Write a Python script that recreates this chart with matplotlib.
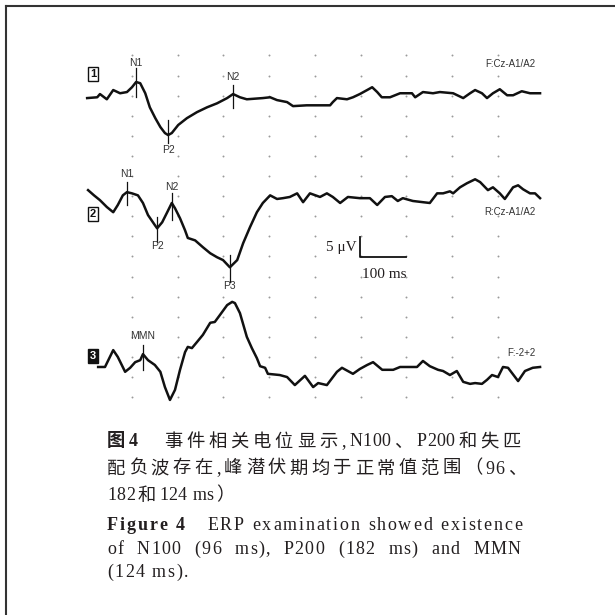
import matplotlib
matplotlib.use('Agg')
import matplotlib.pyplot as plt
from matplotlib.font_manager import FontProperties, findfont, get_font

W = H = 615
DPI = 100

# trace 1  F:Cz-A1/A2   (time ms, amplitude uV)
t1 = [2, 24, 30, 45, 59, 74, 89, 100, 109, 118, 129, 139, 151, 162, 172, 179, 187, 201, 220, 242,
      264, 286, 308, 321, 336, 351, 386, 402, 417, 439, 452, 482, 511, 533, 539, 548, 570, 583, 598, 614,
      625, 636, 646, 664, 686, 712, 719, 736, 758, 773, 802, 824, 839, 850, 865, 876, 889, 904, 920, 933,
      952, 970, 992]
a1 = [-0.6, -0.4, 0.4, -0.9, 1.4, 0.6, 0.9, 2.1, 3.4, 3.1, 0.6, -2.9, -5.6, -7.8, -9.3, -9.8, -9.3, -7.3, -5.6, -4.1,
      -2.9, -1.9, -0.6, 0.4, -0.4, -0.9, -0.6, -0.4, -1.1, -1.6, -2.6, -2.4, -2.4, -2.4, -1.6, -0.6, -0.9, -0.4, 0.4, 1.4,
      2.1, 0.9, -0.4, -0.4, 0.6, 0.6, -0.4, 0.9, 0.6, 0.9, 0.6, -0.6, 0.6, 1.4, 0.6, -0.6, 0.6, 1.6, 0.1, 0.1,
      1.1, 0.6, 0.6]

# trace 2  R:Cz-A1/A2
t2 = [4, 17, 30, 45, 59, 69, 80, 89, 100, 113, 124, 135, 150, 155, 166, 177, 187, 194, 205, 216,
      222, 238, 255, 271, 286, 299, 314, 330, 343, 358, 373, 386, 402, 417, 430, 445, 461, 474, 489, 511,
      526, 539, 555, 572, 598, 620, 636, 653, 668, 681, 692, 714, 736, 751, 767, 780, 795, 802, 817, 832,
      850, 861, 878, 889, 904, 915, 933, 944, 955, 970, 981, 992]
a2 = [1.5, 0.2, -1.0, -2.7, -4.0, -2.2, 0.2, 1.0, 0.7, 0.2, -1.7, -4.7, -7.2, -8.0, -6.5, -4.0, -1.7, -3.0, -5.5, -8.5,
      -10.4, -11.0, -12.7, -14.2, -15.2, -15.9, -17.7, -15.9, -11.7, -7.7, -4.0, -1.7, 0.2, -0.7, -0.5, -0.2, 0.7, -1.5, 0.7, -0.2,
      0.7, -0.2, -1.7, -0.2, -0.5, -0.5, -2.2, -0.2, 0.0, -1.2, -0.5, -1.2, -1.5, -1.7, 0.7, 0.7, 1.2, 0.7, 2.2, 3.2,
      4.2, 3.5, 1.5, 2.2, 0.7, -0.7, 2.2, 2.7, 1.7, 0.7, 0.7, -0.5]

# trace 3  F:-2+2
t3 = [26, 41, 59, 69, 85, 96, 107, 118, 124, 135, 150, 162, 172, 183, 194, 205, 216, 222, 231, 242,
      255, 271, 281, 292, 308, 319, 325, 336, 351, 362, 373, 380, 391, 397, 423, 439, 456, 478, 496, 507,
      526, 548, 559, 583, 598, 614, 627, 647, 671, 686, 723, 736, 751, 769, 780, 795, 810, 824, 839, 850,
      865, 876, 887, 900, 911, 922, 944, 959, 976, 992]
a3 = [0, 0, 4.2, 2.5, -1.2, -0.2, 1.2, 1.7, 3.2, 1.7, 0.5, -1.2, -5.0, -8.2, -5.7, -0.7, 3.7, 5.0, 4.7, 6.2,
      8.0, 11.0, 11.2, 12.9, 15.4, 16.2, 15.9, 13.4, 7.5, 4.7, 2.2, 0.2, -0.2, -1.7, -2.0, -2.5, -4.5, -2.2, -5.0, -4.0,
      -4.5, -1.2, -0.2, -1.7, -0.5, 0.5, 1.2, -0.7, -0.7, 0, 0, 1.5, 0.2, -0.7, -1.0, -2.0, -1.0, -3.7, -4.2, -4.0,
      -4.2, -3.2, -2.0, -2.5, 0, -0.2, -3.5, -1.0, -0.2, 0]

traces = [(t1, a1), (t2, a2), (t3, a3)]
offsets = [75, 50, 7.5]
channels = ['F:Cz-A1/A2', 'R:Cz-A1/A2', 'F:-2+2']
chan_y = [7.8, -4.0, 3.5]
box_y = [5.5, -4.5, 2.7]

# peak marks
peak_name = ['N1', 'P2', 'N2', 'N1', 'P2', 'N2', 'P3', 'MMN']
peak_trace = [0, 0, 0, 1, 1, 1, 1, 2]
peak_t = [109, 179, 321, 89, 155, 187, 314, 124]
tick_hi = [6.8, -6.1, 2.6, 3.5, -5.2, 0.75, -14.7, 5.5]
tick_lo = [-0.4, -11.8, -3.1, -2.2, -11.4, -6.0, -21.4, -0.75]
label_y = [8.1, -13.6, 4.6, 5.5, -12.4, 2.2, -22.4, 7.7]

grid_t = list(range(100, 1000, 100))
grid_v = list(range(0, 90, 5))

TXT = '#231f20'
fig = plt.figure(figsize=(W / DPI, H / DPI), dpi=DPI)
fig.patch.set_facecolor('white')
ax = fig.add_axes([0, 0, 1, 1])
ax.set_xlim(-188.5, 1155.8)
ax.set_ylim(-54.2, 98.8)
ax.axis('off')

# frame (top and left only)
fig.add_artist(plt.Line2D([6 / W, 6 / W], [0, 1 - 6 / H], color='#333333', lw=1.5))
fig.add_artist(plt.Line2D([6 / W, 1], [1 - 6 / H, 1 - 6 / H], color='#333333', lw=1.5))

for v in grid_v:
    ax.plot(grid_t, [v] * len(grid_t), 'o', ms=1.4, mec='none', mfc='#9a9a9a')

for (t, a), off in zip(traces, offsets):
    ax.plot(t, [off + x for x in a], color='#111111', lw=1.8, solid_joinstyle='round')

sans = FontProperties(family='Liberation Sans', size=7.5)
for n, k, t, hi, lo, ly in zip(peak_name, peak_trace, peak_t, tick_hi, tick_lo, label_y):
    off = offsets[k]
    ax.plot([t, t], [off + lo, off + hi], color='#111111', lw=0.9)
    ax.text(t, off + ly, n, fontproperties=sans, color='#333333', ha='center', va='center')

chan_fp = FontProperties(family='Liberation Sans', size=7)
for name, off, cy in zip(channels, offsets, chan_y):
    ax.text(981, off + cy, name, fontproperties=chan_fp, color='#333333', ha='right', va='center')

box_fp = FontProperties(family='Liberation Sans', size=8, weight='bold')
for i, (off, by) in enumerate(zip(offsets, box_y)):
    dark = i == 2
    ax.text(14.5, off + by, str(i + 1), fontproperties=box_fp,
            color='white' if dark else '#111111', ha='center', va='center',
            bbox=dict(boxstyle='square,pad=0.18', fc='#111111' if dark else 'white', ec='#111111', lw=1))

# scale bar 5 uV / 100 ms
bar_t, bar_v = 598, 34.8
ax.plot([bar_t, bar_t, bar_t + 100], [bar_v + 5, bar_v, bar_v], color='#111111', lw=1.3)
serif_s = FontProperties(family='Liberation Serif', size=11)
ax.text(bar_t - 6, bar_v + 2.4, '5 \u03bcV', fontproperties=serif_s, color=TXT, ha='right', va='center')
ax.text(bar_t + 4, bar_v - 4.3, '100 ms', fontproperties=serif_s, color=TXT, ha='left', va='center')

# caption, laid out character by character to mimic justified print
cjk = FontProperties(family='Noto Sans CJK SC', size=13.2)
cjk_b = FontProperties(family='Noto Sans CJK SC', size=13.2, weight='bold')
ser = FontProperties(family='Liberation Serif', size=13)
ser_b = FontProperties(family='Liberation Serif', size=13, weight='bold')


def adv(ch, fp):
    font = get_font(findfont(fp))
    font.set_size(fp.get_size_in_points(), DPI)
    return font.load_char(ord(ch)).linearHoriAdvance / 65536


def put_line(segs, y, x0, x1=None, track=1.5, tight=0.4):
    # segs: (text, font, run) -- chars inside a run keep a tight fixed spacing
    chars, fixed = [], []
    for s, fp, run in segs:
        for j, c in enumerate(s):
            chars.append((c, fp))
            fixed.append(run and j < len(s) - 1)
    fixed[-1] = True
    widths = [adv(c, fp) for c, fp in chars]
    n_sp = sum(1 for c, _ in chars if c == ' ')
    n_st = sum(1 for f in fixed if not f)
    extra = 0.0
    if x1 is not None:
        base = sum(widths) + tight * (len(chars) - 1 - n_st)
        if n_sp:
            extra = (x1 - x0 - base - track * n_st) / n_sp
        else:
            track = (x1 - x0 - base) / n_st
    x = x0
    for (c, fp), w, f in zip(chars, widths, fixed):
        gap = tight if f else track
        if c == ' ':
            x += w + extra + gap
            continue
        fig.text(x / W, 1 - y / H, c, fontproperties=fp, color=TXT, ha='left', va='baseline')
        x += w + gap


put_line([('图', cjk_b, False), ('4', ser_b, False), ('\u3000', cjk, False), ('事件相关电位显示', cjk, False),
          (',', ser, False), ('N100', ser, True), ('、', cjk, False), ('P200', ser, True),
          ('和失匹', cjk, False)], 446.5, 107, 521)
put_line([('配负波存在', cjk, False), (',', ser, False), ('峰潜伏期均于正常值范围（', cjk, False),
          ('96', ser, True), ('、', cjk, False)], 473.5, 107, 526)
put_line([('182', ser, True), ('和', cjk, False), ('124 ms', ser, True), ('）', cjk, False)],
         500.5, 107, track=3)
put_line([('Figure 4', ser_b, False), ('   ERP examination showed existence', ser, False)],
         530, 107, 522, track=1.8)
put_line([('of N100 (96 ms), P200 (182 ms) and MMN', ser, False)], 553.5, 107, 521, track=1.2)
put_line([('(124 ms).', ser, False)], 577, 107, track=1.5)

fig.savefig('out.png', dpi=DPI, facecolor='white')
